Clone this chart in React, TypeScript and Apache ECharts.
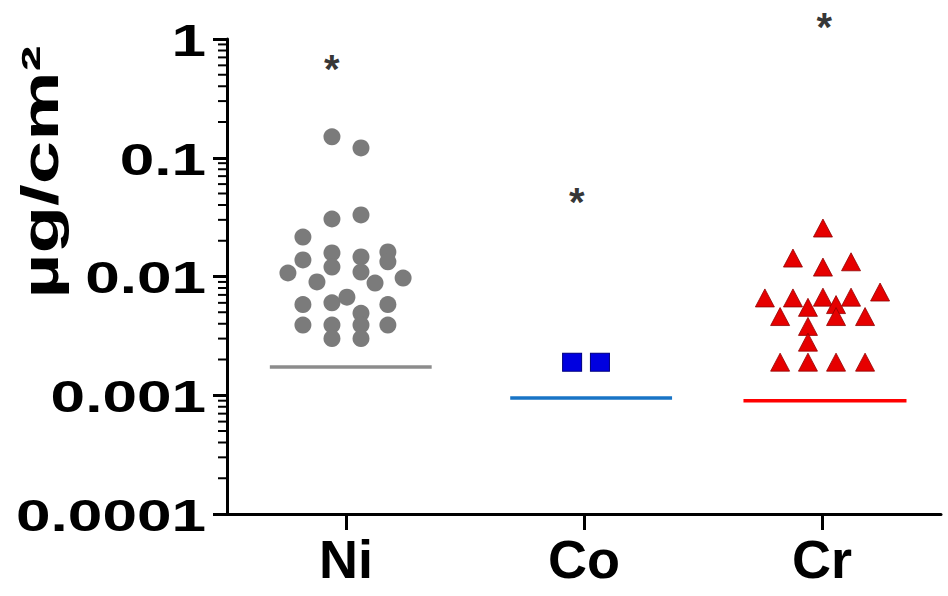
import React, { useEffect, useRef } from "react";
import * as echarts from "echarts";

// ---- data ----
const categories = ["Ni", "Co", "Cr"];

// y-axis decade ticks and their labels
const yTickValues = [1, 0.1, 0.01, 0.001, 0.0001];
const yTickText = ["1", "0.1", "0.01", "0.001", "0.0001"];

// Ni: jitter offset (category units) and value (µg/cm²)
const niJitter = [-0.059, 0.063, -0.059, 0.063, -0.181, -0.059, -0.059, -0.181, -0.244, -0.122, 0.063, 0.063, 0.122, 0.176, 0.176, 0.24, -0.181, -0.059, 0.004, 0.176, 0.063, -0.181, -0.059, 0.063, 0.176, -0.059, 0.063];
const niValues = [0.150, 0.121, 0.0305, 0.033, 0.0215, 0.0158, 0.0120, 0.0138, 0.0107, 0.0090, 0.0146, 0.0109, 0.0088, 0.0161, 0.0133, 0.0097, 0.0058, 0.0060, 0.0067, 0.0058, 0.0049, 0.0039, 0.0039, 0.0039, 0.0039, 0.0030, 0.0030];

const coJitter = [-0.05, 0.067];
const coValues = [0.0019, 0.0019];

const crJitter = [0.004, -0.122, 0.004, 0.122, -0.24, -0.122, 0.004, 0.122, 0.244, -0.059, 0.059, -0.176, 0.059, 0.181, -0.059, -0.059, -0.176, -0.059, 0.059, 0.181];
const crValues = [0.0256, 0.0143, 0.0120, 0.0133, 0.0066, 0.0066, 0.0067, 0.0067, 0.0074, 0.0055, 0.0058, 0.0046, 0.0046, 0.0046, 0.0038, 0.0028, 0.0019, 0.0019, 0.0019, 0.0019];

// horizontal reference lines per group
const refLines = [
  { cat: 0, from: -0.32, to: 0.36, value: 0.00173, color: "#8c8c8c" },
  { cat: 1, from: -0.31, to: 0.37, value: 0.00095, color: "#1874c6" },
  { cat: 2, from: -0.33, to: 0.355, value: 0.0009, color: "#ff0000" },
];

// significance asterisks: [offset, value]
const starJitter = [-0.06, -0.03, 0.01];
const starValues = [0.64, 0.0486, 1.445];

const yMin = 0.0001;
const yMax = 1;

const FONT = "'Liberation Sans', Arial, sans-serif";

export default function App() {
  const ref = useRef<HTMLDivElement>(null);

  useEffect(() => {
    if (!ref.current) return;
    const chart = echarts.init(ref.current, null, { renderer: "svg" });

    const minorTicks: number[][] = [];
    for (let e = -4; e < 0; e++) {
      for (let m = 2; m <= 9; m++) minorTicks.push([0, m * Math.pow(10, e)]);
    }

    const pts = (cat: number, jit: number[], vals: number[]) =>
      vals.map((v, i) => [cat + jit[i], v]);

    const option: any = {
      animation: false,
      backgroundColor: "#ffffff",
      grid: { left: 227, right: 7, top: 39, bottom: 82, containLabel: false },
      xAxis: [
        {
          type: "category",
          data: categories,
          boundaryGap: true,
          axisLine: { show: true, onZero: false, lineStyle: { color: "#000", width: 3 } },
          axisTick: { show: true, alignWithLabel: true, length: 16, lineStyle: { color: "#000", width: 3 } },
          axisLabel: { fontSize: 54, fontWeight: "bold", color: "#000", fontFamily: FONT, margin: 18 },
          splitLine: { show: false },
        },
        { type: "value", min: -0.5, max: 2.5, show: false },
      ],
      yAxis: {
        type: "log",
        logBase: 10,
        min: yMin,
        max: yMax,
        axisLine: { show: true, onZero: false, lineStyle: { color: "#000", width: 3 } },
        axisTick: { show: true, length: 14, lineStyle: { color: "#000", width: 3 } },
        axisLabel: { show: false },
        splitLine: { show: false },
      },
      graphic: [
        {
          type: "text",
          x: 40,
          y: 172,
          rotation: Math.PI / 2,
          scaleX: 1.5,
          style: {
            text: "µg/cm²",
            fontSize: 52,
            fontWeight: "bold",
            fontFamily: FONT,
            fill: "#000",
            align: "center",
            verticalAlign: "middle",
          },
        },
      ],
      series: [
        {
          // log minor ticks (2..9 × 10^k)
          type: "custom",
          xAxisIndex: 1,
          clip: false,
          silent: true,
          data: minorTicks,
          renderItem: (params: any, api: any) => {
            const p = api.coord([0, api.value(1)]);
            const x0 = params.coordSys.x;
            return {
              type: "line",
              shape: { x1: x0 - 9, y1: p[1], x2: x0, y2: p[1] },
              style: { stroke: "#000", lineWidth: 2 },
            };
          },
        },
        {
          // y tick labels (wide bold digits)
          type: "custom",
          xAxisIndex: 1,
          clip: false,
          silent: true,
          data: yTickValues.map((v) => [0, v]),
          renderItem: (params: any, api: any) => {
            const p = api.coord([0, api.value(1)]);
            const x0 = params.coordSys.x;
            return {
              type: "text",
              x: x0 - 21,
              y: p[1] + 1,
              scaleX: 1.38,
              style: {
                text: yTickText[params.dataIndex],
                fontSize: 45,
                fontWeight: "bold",
                fontFamily: FONT,
                fill: "#000",
                align: "right",
                verticalAlign: "middle",
              },
            };
          },
        },
        ...refLines.map((l) => ({
          type: "line",
          xAxisIndex: 1,
          symbol: "none",
          silent: true,
          data: [
            [l.cat + l.from, l.value],
            [l.cat + l.to, l.value],
          ],
          lineStyle: { color: l.color, width: 3.5 },
        })),
        {
          type: "scatter",
          xAxisIndex: 1,
          symbol: "circle",
          symbolSize: 17,
          data: pts(0, niJitter, niValues),
          itemStyle: { color: "#7b7b7b", opacity: 1 },
        },
        {
          type: "scatter",
          xAxisIndex: 1,
          symbol: "rect",
          symbolSize: [19, 18],
          data: pts(1, coJitter, coValues),
          itemStyle: { color: "#0000e0", borderColor: "#000080", borderWidth: 1, opacity: 1 },
        },
        {
          type: "scatter",
          xAxisIndex: 1,
          symbol: "triangle",
          symbolSize: [19, 18],
          data: pts(2, crJitter, crValues),
          itemStyle: { color: "#e60000", borderColor: "#900000", borderWidth: 0.8, opacity: 1 },
        },
        {
          type: "scatter",
          xAxisIndex: 1,
          clip: false,
          symbolSize: 1,
          data: starValues.map((v, i) => [i + starJitter[i], v]),
          itemStyle: { color: "rgba(0,0,0,0)" },
          label: {
            show: true,
            position: "inside",
            formatter: "*",
            fontSize: 40,
            fontWeight: "bold",
            fontFamily: FONT,
            color: "#000",
            offset: [0, 7],
          },
        },
      ],
    };

    chart.setOption(option);
    return () => chart.dispose();
  }, []);

  return (
    <div
      ref={ref}
      style={{ position: "fixed", left: 0, top: 0, width: 948, height: 596, background: "#fff" }}
    />
  );
}
